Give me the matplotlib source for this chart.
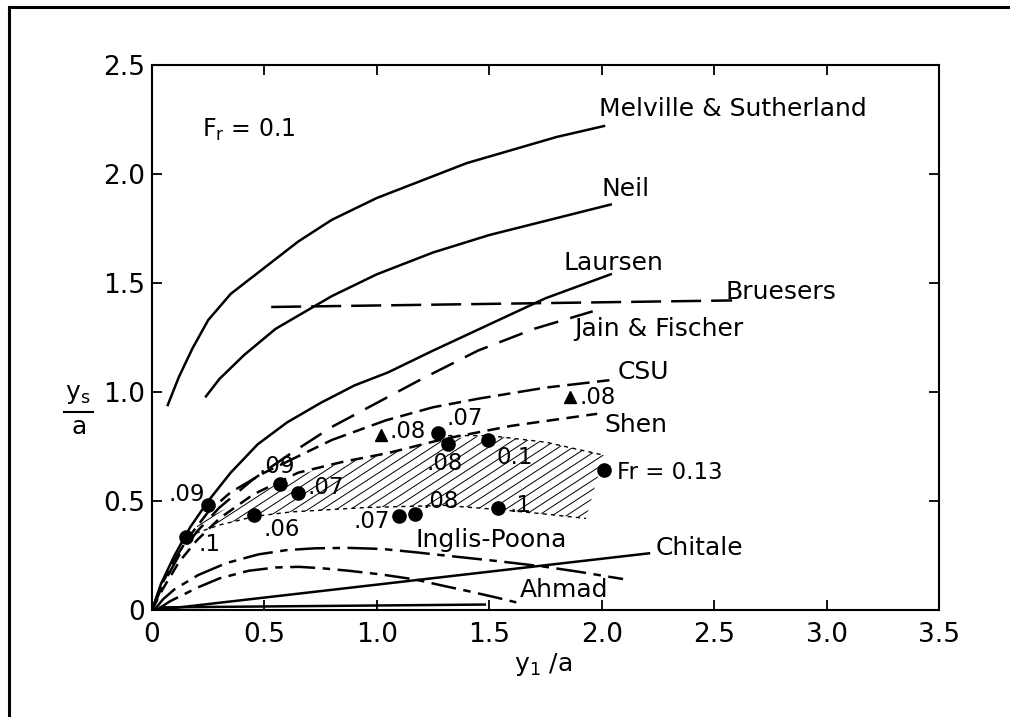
import numpy as np
import matplotlib
matplotlib.use("Agg")
import matplotlib.pyplot as plt
from matplotlib.lines import Line2D
from matplotlib.patches import Polygon

plt.rcParams['font.family'] = ['DejaVu Sans']
plt.rcParams['mathtext.default'] = 'regular'

# ---------------- data ----------------
melville_x = [0.07, 0.12, 0.18, 0.25, 0.35, 0.50, 0.65, 0.80, 1.00, 1.20, 1.40, 1.60, 1.80, 2.01]
melville_y = [0.94, 1.07, 1.20, 1.33, 1.45, 1.57, 1.69, 1.79, 1.89, 1.97, 2.05, 2.11, 2.17, 2.22]

neil_x = [0.24, 0.30, 0.41, 0.55, 0.80, 1.00, 1.25, 1.50, 1.77, 2.04]
neil_y = [0.98, 1.06, 1.17, 1.29, 1.44, 1.54, 1.64, 1.72, 1.79, 1.86]

laursen_x = [0.00, 0.04, 0.10, 0.17, 0.25, 0.35, 0.47, 0.60, 0.75, 0.90, 1.05, 1.25, 1.50, 1.75, 2.04]
laursen_y = [0.00, 0.12, 0.25, 0.38, 0.50, 0.63, 0.76, 0.86, 0.95, 1.03, 1.09, 1.19, 1.31, 1.43, 1.54]

bruesers_x = [0.53, 2.58]
bruesers_y = [1.39, 1.42]

jain_x = [0.00, 0.05, 0.12, 0.20, 0.30, 0.45, 0.62, 0.80, 1.00, 1.20, 1.45, 1.70, 1.96]
jain_y = [0.00, 0.12, 0.25, 0.36, 0.47, 0.60, 0.72, 0.84, 0.95, 1.06, 1.19, 1.29, 1.37]

csu_x = [0.00, 0.04, 0.10, 0.16, 0.25, 0.35, 0.50, 0.62, 0.80, 1.04, 1.25, 1.455, 1.75, 2.05]
csu_y = [0.00, 0.11, 0.23, 0.33, 0.45, 0.54, 0.63, 0.69, 0.78, 0.87, 0.93, 0.97, 1.02, 1.056]

shen_x = [0.00, 0.05, 0.12, 0.20, 0.30, 0.45, 0.65, 0.85, 1.05, 1.30, 1.60, 1.98]
shen_y = [0.00, 0.10, 0.22, 0.32, 0.42, 0.53, 0.63, 0.68, 0.72, 0.785, 0.845, 0.90]

inglis_x = [0.01, 0.05, 0.10, 0.205, 0.33, 0.473, 0.60, 0.726, 0.87, 1.024, 1.17, 1.32, 1.53, 1.737, 1.90, 2.095]
inglis_y = [0.00, 0.05, 0.095, 0.16, 0.215, 0.255, 0.275, 0.283, 0.285, 0.28, 0.265, 0.248, 0.225, 0.20, 0.175, 0.142]

ahmad_x = [0.02, 0.08, 0.205, 0.30, 0.43, 0.55, 0.652, 0.75, 0.875, 1.02, 1.17, 1.30, 1.40, 1.52, 1.62]
ahmad_y = [0.00, 0.04, 0.104, 0.145, 0.18, 0.195, 0.198, 0.192, 0.18, 0.163, 0.14, 0.11, 0.088, 0.06, 0.035]

chitale_x = [0.02, 2.21]
chitale_y = [0.00, 0.26]

base_x = [0.04, 1.48]
base_y = [0.012, 0.025]

# hatched region (envelope of data)
region_x = [0.20, 0.30, 0.45, 0.65, 0.85, 1.05, 1.30, 1.50, 1.75, 2.01, 1.93, 1.75, 1.55, 1.30, 0.95, 0.62, 0.46, 0.30, 0.20]
region_y = [0.40, 0.45, 0.53, 0.62, 0.675, 0.715, 0.785, 0.80, 0.77, 0.71, 0.42, 0.44, 0.46, 0.48, 0.47, 0.45, 0.43, 0.39, 0.37]
upper_edge_x = [1.28, 1.50, 1.75, 2.01]
upper_edge_y = [0.80, 0.80, 0.77, 0.71]
lower_edge_x = [0.16, 0.30, 0.46, 0.62, 0.95, 1.30, 1.55, 1.75, 1.93]
lower_edge_y = [0.34, 0.39, 0.43, 0.45, 0.47, 0.48, 0.46, 0.44, 0.42]

# data points
circle_x = [0.15, 0.25, 0.57, 0.65, 0.455, 1.10, 1.17, 1.27, 1.315, 1.495, 1.54, 2.01]
circle_y = [0.335, 0.48, 0.58, 0.535, 0.435, 0.43, 0.44, 0.81, 0.76, 0.78, 0.47, 0.64]
tri_x = [1.02, 1.86]
tri_y = [0.805, 0.975]

# point labels: text, x, y, ha
pt_labels = [
    (".1", 0.205, 0.30, 'left'),
    (".09", 0.236, 0.53, 'right'),
    (".09", 0.556, 0.66, 'center'),
    (".07", 0.69, 0.56, 'left'),
    (".06", 0.494, 0.367, 'left'),
    (".07", 1.058, 0.408, 'right'),
    (".08", 1.205, 0.50, 'left'),
    (".08", 1.058, 0.82, 'left'),
    (".07", 1.31, 0.88, 'left'),
    (".08", 1.22, 0.67, 'left'),
    ("0.1", 1.53, 0.70, 'left'),
    (".1", 1.59, 0.48, 'left'),
    (".08", 1.90, 0.977, 'left'),
    ("Fr = 0.13", 2.07, 0.63, 'left'),
]

curve_labels = [
    ("Melville & Sutherland", 1.99, 2.30),
    ("Neil", 2.00, 1.93),
    ("Laursen", 1.83, 1.59),
    ("Bruesers", 2.55, 1.46),
    ("Jain & Fischer", 1.876, 1.29),
    ("CSU", 2.07, 1.09),
    ("Shen", 2.01, 0.85),
    ("Chitale", 2.24, 0.285),
    ("Ahmad", 1.636, 0.092),
    ("Inglis-Poona", 1.17, 0.32),
]

xticks = [0, 0.5, 1.0, 1.5, 2.0, 2.5, 3.0, 3.5]
xticklabels = ["0", "0.5", "1.0", "1.5", "2.0", "2.5", "3.0", "3.5"]
yticks = [0, 0.5, 1.0, 1.5, 2.0, 2.5]
yticklabels = ["0", "0.5", "1.0", "1.5", "2.0", "2.5"]

# ---------------- figure ----------------
fig = plt.figure(figsize=(10.10, 7.17), dpi=100)
ax = fig.add_axes([152/1010, 1-610/717, (939-152)/1010, (610-65)/717])
ax.set_xlim(0, 3.5)
ax.set_ylim(0, 2.5)

lw = 1.8
k = 'black'
ax.plot(melville_x, melville_y, color=k, lw=lw)
ax.plot(neil_x, neil_y, color=k, lw=lw)
ax.plot(laursen_x, laursen_y, color=k, lw=lw)
ax.plot(bruesers_x, bruesers_y, color=k, lw=lw, dashes=(12, 4))
ax.plot(jain_x, jain_y, color=k, lw=lw, dashes=(10, 5))
ax.plot(csu_x, csu_y, color=k, lw=lw, dashes=(9, 3, 5, 3))
ax.plot(shen_x, shen_y, color=k, lw=lw, dashes=(5, 3))
ax.plot(inglis_x, inglis_y, color=k, lw=lw, dashes=(12, 3, 3, 3))
ax.plot(ahmad_x, ahmad_y, color=k, lw=lw, dashes=(10, 3, 3, 3))
ax.plot(chitale_x, chitale_y, color=k, lw=lw)
ax.plot(base_x, base_y, color=k, lw=lw)

# hatched envelope
poly = Polygon(np.column_stack([region_x, region_y]), closed=True,
               facecolor='none', edgecolor='none')
ax.add_patch(poly)
slope = 0.67
for c in np.arange(-1.6, 0.6, 0.042):
    hx = np.array([0.0, 2.2])
    ln, = ax.plot(hx, slope * hx + c, color=k, lw=0.7)
    ln.set_clip_path(poly)
ax.plot(upper_edge_x, upper_edge_y, color=k, lw=1.0, dashes=(3, 3))
ax.plot(lower_edge_x, lower_edge_y, color=k, lw=1.0, dashes=(3, 3))

ax.plot(circle_x, circle_y, 'o', color=k, ms=9.5, zorder=5)
ax.plot(tri_x, tri_y, '^', color=k, ms=9, zorder=5)

for t, x, y, ha in pt_labels:
    ax.text(x, y, t, fontsize=16.5, ha=ha, va='center')
for t, x, y in curve_labels:
    ax.text(x, y, t, fontsize=18, ha='left', va='center')
ax.text(0.222, 2.20, r'$F_r$' + ' = 0.1', fontsize=17, ha='left', va='center')

ax.set_xticks(xticks)
ax.set_xticklabels(xticklabels)
ax.set_yticks(yticks)
ax.set_yticklabels(yticklabels)
ax.tick_params(direction='in', length=7, width=1.3, labelsize=19,
               top=True, right=True, labeltop=False, labelright=False)
ax.tick_params(axis='x', pad=9)
ax.tick_params(axis='y', pad=5)
for s in ax.spines.values():
    s.set_linewidth(1.5)

# axis labels
fig.text(543/1010, 1-665/717, r'$y_1$' + ' /a', fontsize=18, ha='center', va='center')
fig.text(78/1010, 1-394/717, r'$y_s$', fontsize=18, ha='center', va='center')
fig.add_artist(Line2D([64/1010, 93/1010], [1-412/717, 1-412/717], color=k, lw=1.5))
fig.text(79/1010, 1-427/717, 'a', fontsize=18, ha='center', va='center')

# outer frame (left and top edges visible)
fig.add_artist(Line2D([9/1010, 9/1010], [0, 1-7/717], color=k, lw=2.2))
fig.add_artist(Line2D([9/1010, 1], [1-7/717, 1-7/717], color=k, lw=2.2))

fig.savefig('out.png', dpi=100)
